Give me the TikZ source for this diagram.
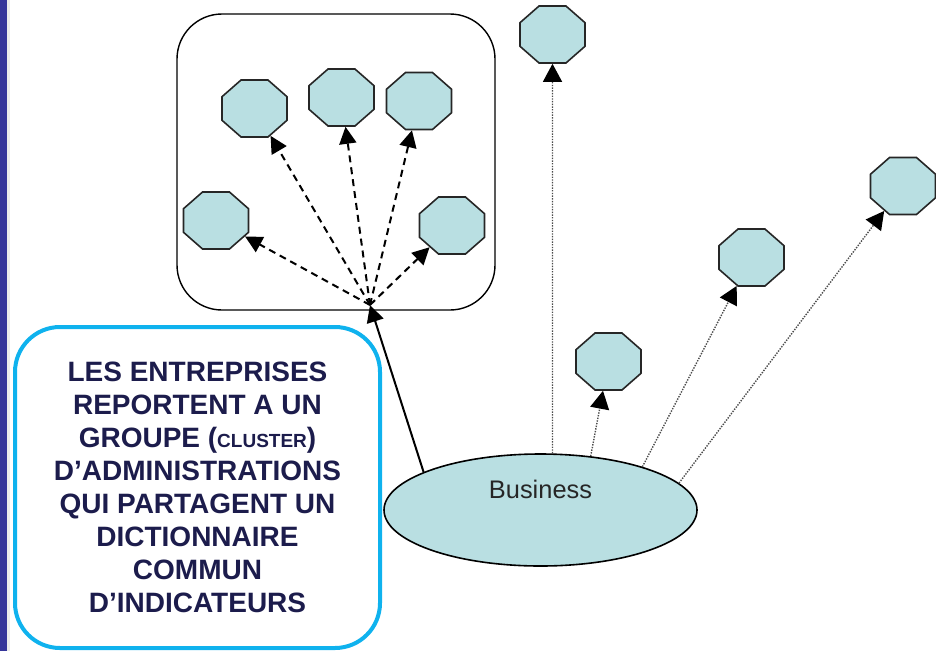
\documentclass[tikz,border=0pt]{standalone}
\usepackage{fontspec}
\setmainfont{Liberation Sans}
\usetikzlibrary{shapes.geometric,arrows.meta}
\definecolor{octfill}{HTML}{B9DFE2}
\definecolor{barblue}{HTML}{35359A}
\definecolor{boxcyan}{HTML}{0FB2EE}
\definecolor{textnavy}{HTML}{1C1C4C}

\begin{document}
\begin{tikzpicture}[x=1pt,y=-1pt,
	oct/.style={regular polygon,regular polygon sides=8,minimum size=61.7pt,inner sep=0pt,xscale=1.14,draw=black!85,line width=1.6pt,fill=octfill},
	fanarrow/.style={line width=2pt,dash pattern=on 7pt off 5pt,-{Triangle[length=17pt,width=17pt]}},
	dotarrow/.style={line width=1.4pt,black!70,dash pattern=on 1.4pt off 1.3pt,-{Triangle[length=18pt,width=19pt,color=black]}},
	notebox/.style={draw=boxcyan,line width=4pt,rounded corners=45pt,minimum width=365pt,minimum height=321pt,align=center,text=textnavy,font=\fontsize{28}{33}\selectfont\bfseries}]
	\useasboundingbox (0,0) rectangle (936,651);
	\fill[barblue] (0,0) rectangle (7,651);
	\fill[black!8] (7,0) rectangle (10,651);
	\node[draw,line width=1.4pt,rounded corners=45pt,minimum width=318pt,minimum height=296pt] (cluster) at (336,162) {};
	\node[oct] (o1) at (254.5,108.5) {};
	\node[oct] (o2) at (341.5,97.5) {};
	\node[oct] (o3) at (419,101) {};
	\node[oct] (o4) at (216,220.5) {};
	\node[oct] (o5) at (452,225.5) {};
	\node[oct] (t1) at (552.5,34.5) {};
	\node[oct] (t2) at (608.5,361.5) {};
	\node[oct] (t3) at (751.5,257.5) {};
	\node[oct] (t4) at (903,186) {};
	\coordinate (hub) at (370,305);
	\node[ellipse,draw,line width=1.6pt,fill=octfill,minimum width=313pt,minimum height=112pt] (biz) at (540.5,510) {};
	\node[font=\fontsize{25.4}{30}\selectfont,text=black!85] (bizlabel) at ([yshift=21pt]biz.center) {Business};
	\foreach \t in {o1,o2,o3,o4,o5}
		\draw[fanarrow] (hub) -- (\t);
	\draw[line width=2pt,-{Triangle[length=17pt,width=17pt]}] (biz.162) -- (hub);
	\draw[dotarrow] (biz.78) -- (t1);
	\draw[dotarrow] (biz.47) -- (t2);
	\draw[dotarrow] (biz.23) -- (t3);
	\draw[dotarrow] (biz.11) -- (t4);
	\node[notebox] (note) at (197.5,487.5) {LES ENTREPRISES\\REPORTENT A UN\\GROUPE ({\fontsize{19}{33}\selectfont CLUSTER})\\D’ADMINISTRATIONS\\QUI PARTAGENT UN\\DICTIONNAIRE\\COMMUN\\D’INDICATEURS};
\end{tikzpicture}
\end{document}
